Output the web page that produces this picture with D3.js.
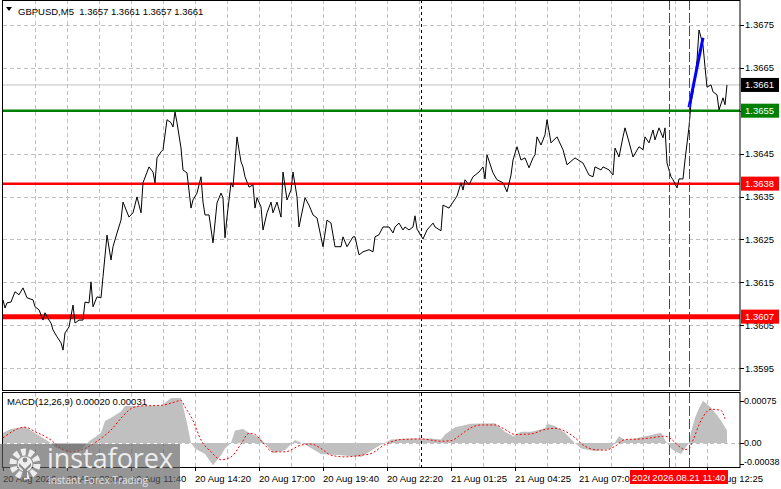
<!DOCTYPE html>
<html>
<head>
<meta charset="utf-8">
<script src="https://cdn.jsdelivr.net/npm/d3@7"></script>
<style>
  body { margin: 0; background: #fff; }
  svg { display: block; }
</style>
</head>
<body>
<div id="chart"></div>
<script>
// GBPUSD M5 closes, bar index -> price
var priceBars = [0,1,2,4,6,8,10,12,15,16,
  18,20,21,23,24,25,27,29,30,31,
  33,35,36,38,40,41,43,44,45,47,
  49,50,52,54,55,57,59,60,63,65,
  67,69,70,73,75,76,77,79,80,82,
  84,85,86,87,89,90,92,94,95,97,
  99,100,101,103,105,107,109,110,111,112,
  114,115,117,118,119,120,121,123,125,126,
  127,129,130,132,134,135,137,139,140,142,
  144,145,147,148,151,153,155,157,160,162,
  164,166,169,170,172,175,176,178,180,183,
  185,186,188,190,193,195,196,198,200,201,
  203,205,206,207,210,212,215,216,219,220,
  223,225,227,229,230,231,233,235,238,240,
  241,242,245,247,250,252,254,255,257,259,
  261,263,265,266,267,269,271,272,274,277,
  280,282,286,290,293,295,296,299,300,303,
  305,306,308,310,311,313,315,318,320,321,
  323,325,326,328,330,331,332,334,335,337,
  338,340,341,343,344,345,347,348,350,351,
  352,354,355,357,358,360,361,362];
var prices = [1.36109,1.36090,1.36102,1.36104,1.36128,1.36121,1.36137,1.36114,1.36109,1.36093,
  1.36086,1.36062,1.36079,1.36062,1.36055,1.36039,1.36023,1.36009,1.35992,1.36032,
  1.36046,1.36097,1.36055,1.36062,1.36062,1.36104,1.36102,1.36151,1.36093,1.36116,
  1.36114,1.36163,1.36260,1.36202,1.36233,1.36265,1.36295,1.36337,1.36302,1.36312,
  1.36349,1.36312,1.36382,1.36419,1.36407,1.36382,1.36440,1.36454,1.36459,1.36529,
  1.36522,1.36512,1.36547,1.36522,1.36463,1.36412,1.36405,1.36323,1.36342,1.36358,
  1.36396,1.36337,1.36307,1.36307,1.36242,1.36335,1.36358,1.36347,1.36254,1.36302,
  1.36382,1.36372,1.36489,1.36459,1.36431,1.36419,1.36396,1.36372,1.36377,1.36323,
  1.36347,1.36326,1.36272,1.36312,1.36337,1.36312,1.36337,1.36302,1.36407,1.36342,
  1.36365,1.36407,1.36349,1.36279,1.36347,1.36330,1.36307,1.36300,1.36233,1.36295,
  1.36288,1.36233,1.36233,1.36256,1.36233,1.36256,1.36256,1.36214,1.36221,1.36226,
  1.36221,1.36256,1.36261,1.36279,1.36279,1.36265,1.36279,1.36288,1.36272,1.36279,
  1.36272,1.36279,1.36305,1.36274,1.36251,1.36272,1.36288,1.36279,1.36270,1.36330,
  1.36323,1.36337,1.36351,1.36382,1.36365,1.36389,1.36377,1.36396,1.36407,1.36419,
  1.36391,1.36447,1.36405,1.36389,1.36382,1.36361,1.36400,1.36435,1.36466,1.36435,
  1.36440,1.36417,1.36440,1.36447,1.36489,1.36470,1.36494,1.36529,1.36475,1.36489,
  1.36459,1.36424,1.36440,1.36428,1.36400,1.36396,1.36419,1.36412,1.36419,1.36412,
  1.36400,1.36463,1.36442,1.36489,1.36510,1.36477,1.36442,1.36466,1.36459,1.36489,
  1.36475,1.36505,1.36482,1.36510,1.36487,1.36510,1.36428,1.36396,1.36389,1.36370,
  1.36391,1.36391,1.36435,1.36512,1.36568,1.36592,1.36668,1.36738,1.36703,1.36652,
  1.36605,1.36610,1.36594,1.36587,1.36552,1.36580,1.36564,1.36610];

// blue trend segment
var blueBars = [343, 350];
var bluePrices = [1.36558, 1.36720];

// MACD histogram
var histBars = [0,4,11,19,24,26,33,39,43,46,
  49,51,54,59,61,79,84,89,90,92,
  94,96,101,105,109,111,114,116,120,124,
  128,131,135,141,146,151,159,169,179,184,
  188,191,194,204,214,219,221,226,234,246,
  251,255,259,264,271,272,276,281,285,289,
  296,304,308,311,316,324,329,331,334,336,
  339,341,343,344,346,348,350,354,359,362];
var histVals = [0.00018,0.00025,0.00029,0.00011,0.0,-0.00008,-0.00016,-0.00012,0.00003,0.00010,
  0.00018,0.00039,0.00045,0.00056,0.00066,0.00066,0.00080,0.00080,0.00066,0.00035,
  0.0,-0.00010,-0.00020,-0.00040,-0.00022,-0.00010,0.0,0.00022,0.00025,0.00016,
  0.00010,0.0,-0.00018,-0.00013,0.00005,-0.00003,-0.00020,-0.00022,-0.00025,-0.00014,
  -0.00005,0.0,0.00006,0.00008,0.00008,0.00006,0.00015,0.00028,0.00034,0.00035,
  0.00020,0.00012,0.00020,0.00020,0.00026,0.00034,0.00030,0.00018,0.00003,-0.00010,
  -0.00015,-0.00010,0.00012,0.00005,0.00008,0.00014,0.00018,0.00005,-0.00010,-0.00015,
  -0.00020,-0.00010,0.0,0.00020,0.00045,0.00062,0.00075,0.00063,0.00040,0.00022];

// MACD signal
var sigBars = [0,11,16,24,29,34,39,44,49,54,
  59,64,69,79,86,89,91,95,99,104,
  109,114,119,123,126,130,135,141,149,154,
  159,164,171,179,184,191,199,209,219,224,
  229,234,239,246,251,256,264,271,276,281,
  286,291,296,301,306,311,319,326,331,334,
  338,341,343,345,349,354,359,361];
var sigVals = [0.00009,0.00028,0.00020,0.00005,-0.00010,-0.00016,-0.00013,-0.00004,0.00008,0.00023,
  0.00044,0.00061,0.00066,0.00067,0.00073,0.00076,0.00064,0.00040,0.00005,-0.00016,
  -0.00030,-0.00025,-0.00002,0.00017,0.00015,0.0,-0.00016,-0.00016,-0.00004,-0.00002,
  -0.00010,-0.00022,-0.00025,-0.00022,-0.00019,-0.00003,0.00006,0.00007,0.00003,0.00004,
  0.00015,0.00027,0.00032,0.00032,0.00024,0.00015,0.00016,0.00024,0.00026,0.00021,
  0.00009,-0.00006,-0.00012,-0.00013,-0.00006,0.00006,0.00007,0.00010,0.00012,0.00007,
  -0.00006,-0.00012,-0.00010,0.00005,0.00040,0.00060,0.00058,0.00043];

var priceTicks = [1.3675,1.3665,1.3655,1.3645,1.3635,1.3625,1.3615,1.3605,1.3595];
var levelPrices = [1.3661, 1.3655, 1.3638, 1.3607];
var macdTicks = [0.00075, 0, -0.00038];
var macdTickText = ["0.00075", "0.00", "-0.00038"];
var timeBars = [0,32,64,96,128,160,192,224,256,288,320,352];
var timeLabels = ["20 Aug 2026","20 Aug 09:00","20 Aug 11:40","20 Aug 14:20","20 Aug 17:00","20 Aug 19:40",
  "20 Aug 22:20","21 Aug 01:25","21 Aug 04:25","21 Aug 07:05","21 Aug 09:45","21 Aug 12:25"];
var markerBars = [333, 343];
var markerLabels = ["2026.08.21 10:50", "2026.08.21 11:40"];
var separatorBar = 209;

var width = 781, height = 489;
var axisX = 740;

var svg = d3.select("#chart").append("svg")
    .attr("width", width)
    .attr("height", height)
    .style("font-family", "'Liberation Sans', Arial, sans-serif")
    .style("font-size", "9.5px");

var x = d3.scaleLinear().domain([0, 362]).range([3, 727]);
var y = d3.scaleLinear().domain([1.35899, 1.36808]).range([390, 0]);
var ym = d3.scaleLinear().domain([-0.00043, 0.00089]).range([467, 393]);

var defs = svg.append("defs");
defs.append("clipPath").attr("id", "clipMain")
  .append("rect").attr("x", 3).attr("y", 1).attr("width", axisX - 3).attr("height", 389);
defs.append("clipPath").attr("id", "clipMacd")
  .append("rect").attr("x", 3).attr("y", 393).attr("width", axisX - 3).attr("height", 74);

var gridBars = d3.range(16, 353, 16);

// grid main
var gMain = svg.append("g").attr("clip-path", "url(#clipMain)");
gMain.selectAll(".hgrid").data(priceTicks).join("line")
    .attr("x1", 3).attr("x2", axisX)
    .attr("y1", d => Math.round(y(d)) + 0.5).attr("y2", d => Math.round(y(d)) + 0.5)
    .attr("stroke", "#c0c0c0").attr("stroke-dasharray", "4,3");
gMain.selectAll(".vgrid").data(gridBars).join("line")
    .attr("x1", d => x(d) + 0.5).attr("x2", d => x(d) + 0.5)
    .attr("y1", 0).attr("y2", 390)
    .attr("stroke", "#c0c0c0").attr("stroke-dasharray", "4,3");

// grid macd
var gMacd = svg.append("g").attr("clip-path", "url(#clipMacd)");
gMacd.selectAll(".vgrid").data(gridBars).join("line")
    .attr("x1", d => x(d) + 0.5).attr("x2", d => x(d) + 0.5)
    .attr("y1", 393).attr("y2", 467)
    .attr("stroke", "#c0c0c0").attr("stroke-dasharray", "4,3");

// histogram
gMacd.append("path")
    .datum(histBars.map((b, i) => [b, histVals[i]]))
    .attr("fill", "#c0c0c0")
    .attr("d", d3.area().x(d => x(d[0])).y0(ym(0)).y1(d => ym(d[1])));
gMacd.append("line")
    .attr("x1", 3).attr("x2", axisX)
    .attr("y1", Math.round(ym(0)) + 0.5).attr("y2", Math.round(ym(0)) + 0.5)
    .attr("stroke", "#c0c0c0").attr("stroke-dasharray", "4,3");
gMacd.append("path")
    .datum(sigBars.map((b, i) => [b, sigVals[i]]))
    .attr("fill", "none").attr("stroke", "#ff0000").attr("stroke-width", 1)
    .attr("stroke-dasharray", "2,2")
    .attr("d", d3.line().x(d => x(d[0])).y(d => ym(d[1])).curve(d3.curveMonotoneX));

// horizontal levels
var levelColor = ["#c0c0c0", "#008000", "#ff0000", "#ff0000"];
var levelWidth = [1, 2.5, 2.5, 5];
var levelBox = ["#000000", "#008000", "#ff0000", "#ff0000"];
gMain.selectAll(".level").data(levelPrices).join("line")
    .attr("x1", 3).attr("x2", axisX)
    .attr("y1", d => y(d)).attr("y2", d => y(d))
    .attr("stroke", (d, i) => levelColor[i])
    .attr("stroke-width", (d, i) => levelWidth[i]);

// day separator
svg.selectAll(".sep").data([[0, 390], [393, 467]]).join("line")
    .attr("x1", x(separatorBar) + 0.5).attr("x2", x(separatorBar) + 0.5)
    .attr("y1", d => d[0]).attr("y2", d => d[1])
    .attr("stroke", "#000").attr("stroke-dasharray", "3,3");

// red vertical markers
markerBars.forEach(function(b) {
  svg.selectAll(null).data([[0, 390], [393, 467]]).join("line")
      .attr("x1", x(b) + 0.5).attr("x2", x(b) + 0.5)
      .attr("y1", d => d[0]).attr("y2", d => d[1])
      .attr("stroke", "#ff0000").attr("stroke-dasharray", "10,3");
});

// price line
gMain.append("path")
    .datum(priceBars.map((b, i) => [b, prices[i]]))
    .attr("fill", "none").attr("stroke", "#000").attr("stroke-width", 1)
    .attr("d", d3.line().x(d => x(d[0])).y(d => y(d[1])));

gMain.append("path")
    .datum(blueBars.map((b, i) => [b, bluePrices[i]]))
    .attr("fill", "none").attr("stroke", "#0000ff").attr("stroke-width", 3)
    .attr("d", d3.line().x(d => x(d[0])).y(d => y(d[1])));

// frames
svg.append("rect").attr("x", 2.5).attr("y", 0.5).attr("width", axisX - 2.5).attr("height", 390)
    .attr("fill", "none").attr("stroke", "#000");
svg.append("rect").attr("x", 2.5).attr("y", 392.5).attr("width", axisX - 2.5).attr("height", 75)
    .attr("fill", "none").attr("stroke", "#000");

// right price axis
var gAxis = svg.append("g");
gAxis.selectAll(".tk").data(priceTicks).join("line")
    .attr("x1", axisX).attr("x2", axisX + 4)
    .attr("y1", d => Math.round(y(d)) + 0.5).attr("y2", d => Math.round(y(d)) + 0.5)
    .attr("stroke", "#000");
gAxis.selectAll(".tl").data(priceTicks).join("text")
    .attr("x", axisX + 5).attr("y", d => y(d) + 3.5)
    .attr("fill", "#000")
    .text(d => d.toFixed(4));

gAxis.selectAll(".lb").data(levelPrices).join("rect")
    .attr("x", axisX + 1).attr("y", d => y(d) - 7)
    .attr("width", 38).attr("height", 14)
    .attr("fill", (d, i) => levelBox[i]);
gAxis.selectAll(".lt").data(levelPrices).join("text")
    .attr("x", axisX + 5).attr("y", d => y(d) + 3.5)
    .attr("fill", "#fff")
    .text(d => d.toFixed(4));

// macd axis
gAxis.selectAll(".mk").data(macdTicks).join("line")
    .attr("x1", axisX).attr("x2", axisX + 4)
    .attr("y1", d => Math.round(ym(d)) + 0.5).attr("y2", d => Math.round(ym(d)) + 0.5)
    .attr("stroke", "#000");
gAxis.selectAll(".ml").data(macdTicks).join("text")
    .attr("x", axisX + 4).attr("y", (d, i) => Math.min(ym(d) + 3.5, 465))
    .attr("fill", "#000")
    .style("font-size", "9px")
    .text((d, i) => macdTickText[i]);

// time axis
svg.selectAll(".tt").data(timeBars).join("line")
    .attr("x1", d => x(d) + 0.5).attr("x2", d => x(d) + 0.5)
    .attr("y1", 467).attr("y2", 471)
    .attr("stroke", "#000");
svg.selectAll(".tx").data(timeBars).join("text")
    .attr("x", d => x(d)).attr("y", 482)
    .attr("fill", "#000")
    .text((d, i) => timeLabels[i]);

markerBars.forEach(function(b, i) {
  svg.append("rect").attr("x", x(b) - 39).attr("y", 470).attr("width", 78).attr("height", 14)
      .attr("fill", "#ff0000");
  svg.append("text").attr("x", x(b)).attr("y", 481).attr("text-anchor", "middle")
      .attr("fill", "#fff").text(markerLabels[i]);
});

// titles
svg.append("path").attr("d", "M6,7 L12,7 L9,11 Z").attr("fill", "#000");
svg.append("text").attr("x", 18).attr("y", 14.5).attr("fill", "#000")
    .attr("xml:space", "preserve")
    .text("GBPUSD,M5  1.3657 1.3661 1.3657 1.3661");
svg.append("text").attr("x", 7).attr("y", 405).attr("fill", "#000")
    .text("MACD(12,26,9) 0.00020 0.00031");

// watermark
var wm = svg.append("g");
wm.append("rect").attr("x", 0).attr("y", 444).attr("width", 180).attr("height", 45)
    .attr("fill", "#5c5c5c").attr("opacity", 0.65);
wm.append("circle").attr("cx", 25).attr("cy", 464).attr("r", 12)
    .attr("fill", "none").attr("stroke", "#eeeeee").attr("stroke-width", 7)
    .attr("stroke-dasharray", "4.6,2.9");
wm.append("circle").attr("cx", 25).attr("cy", 464).attr("r", 7.5).attr("fill", "#eeeeee");
wm.append("circle").attr("cx", 25).attr("cy", 460).attr("r", 2.4).attr("fill", "#8a8a8a");
wm.append("path").attr("d", "M19,463 L25,469 L31,463 L31,466 L27,470 L27,478 L23,478 L23,470 L19,466 Z")
    .attr("fill", "#8a8a8a");
wm.append("text").attr("x", 47).attr("y", 468)
    .attr("fill", "#eeeeee")
    .style("font-family", "'Open Sans', 'Noto Sans', sans-serif")
    .style("font-size", "27px")
    .attr("textLength", 126).attr("lengthAdjust", "spacingAndGlyphs")
    .text("instaforex");
wm.append("text").attr("x", 48).attr("y", 484)
    .attr("fill", "#e4e4e4")
    .style("font-family", "'Open Sans', 'Noto Sans', sans-serif")
    .style("font-size", "10.5px")
    .attr("textLength", 100).attr("lengthAdjust", "spacingAndGlyphs")
    .text("Instant Forex Trading");
</script>
</body>
</html>
